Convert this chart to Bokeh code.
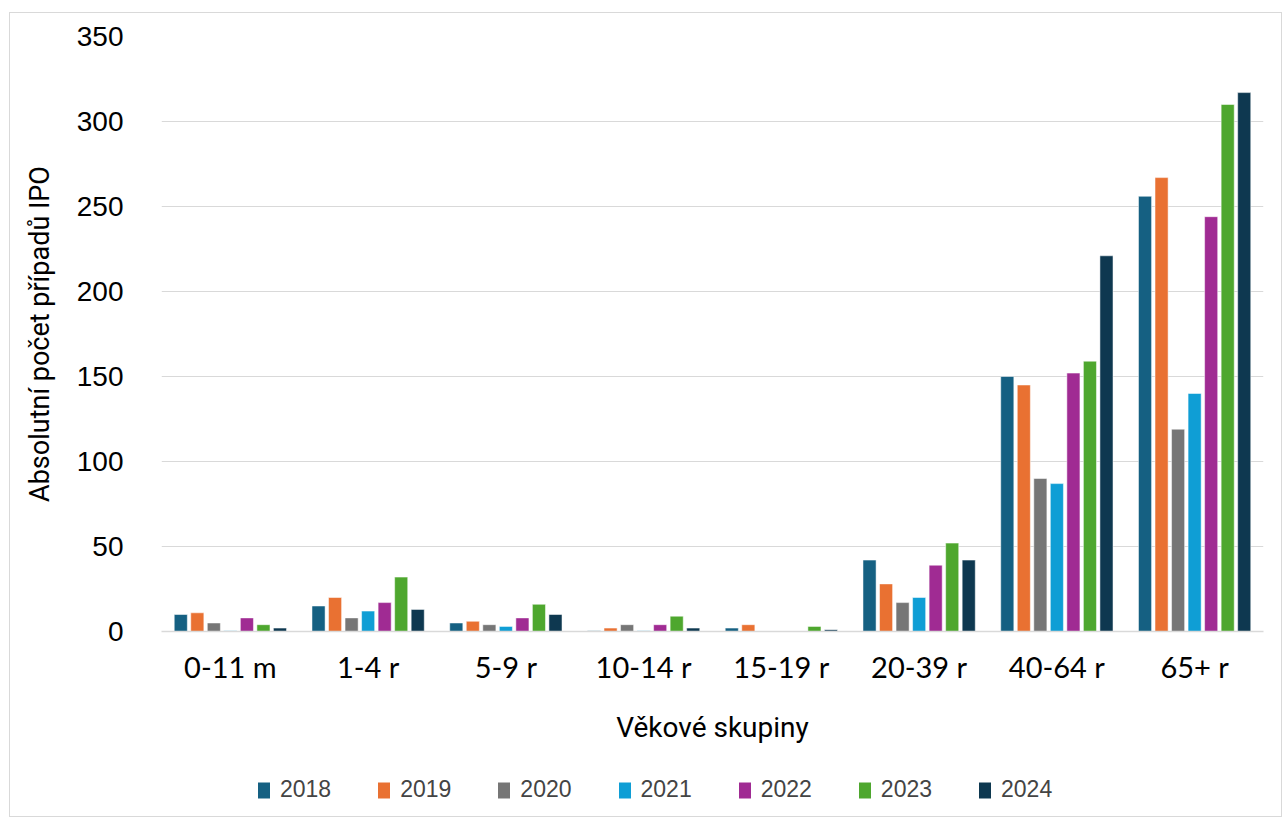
from bokeh.plotting import figure
from bokeh.layouts import column
from bokeh.models import ColumnDataSource, FactorRange, Legend, LegendItem, Range1d, SingleIntervalTicker
from bokeh.transform import dodge
from bokeh.embed import file_html
from bokeh.resources import INLINE

groups = ["0-11 m", "1-4 r", "5-9 r", "10-14 r", "15-19 r", "20-39 r", "40-64 r", "65+ r"]
years = ["2018", "2019", "2020", "2021", "2022", "2023", "2024"]
v2018 = [10, 15, 5, 0.5, 2, 42, 150, 256]
v2019 = [11, 20, 6, 2, 4, 28, 145, 267]
v2020 = [5, 8, 4, 4, 0, 17, 90, 119]
v2021 = [0.5, 12, 3, 0.5, 0, 20, 87, 140]
v2022 = [8, 17, 8, 4, 0, 39, 152, 244]
v2023 = [4, 32, 16, 9, 3, 52, 159, 310]
v2024 = [2, 13, 10, 2, 1, 42, 221, 317]
colors = ["#156082", "#E97132", "#767676", "#0F9ED5", "#A02B93", "#4EA72E", "#0E3850"]

series = [v2018, v2019, v2020, v2021, v2022, v2023, v2024]
data = {"g": groups}
for y, s in zip(years, series):
    data["y" + y] = s
src = ColumnDataSource(data)

p = figure(x_range=FactorRange(*groups, range_padding=0), y_range=Range1d(0, 350),
           frame_width=1102, frame_height=595, output_backend="svg", toolbar_location=None,
           min_border_left=151, min_border_right=18, min_border_top=23, min_border_bottom=130)

# legend strip below the chart (bars out of its visible range, used only for legend swatches)
pl = figure(x_range=p.x_range, y_range=Range1d(1000, 2000), frame_width=1271, frame_height=55,
            output_backend="svg", toolbar_location=None, x_axis_type=None, y_axis_type=None,
            min_border=0)
pl.outline_line_color = None
pl.grid.visible = False

offsets = [-0.36, -0.24, -0.12, 0.0, 0.12, 0.24, 0.36]
items = []
for y, c, off in zip(years, colors, offsets):
    p.vbar(x=dodge("g", off, range=p.x_range), top="y" + y, width=0.095, source=src,
           fill_color=c, line_color="white", line_width=0.5)
    r2 = pl.vbar(x=dodge("g", off, range=p.x_range), top="y" + y, width=0.095, source=src,
                 fill_color=c, line_color=None)
    items.append(LegendItem(label=y, renderers=[r2]))

p.outline_line_color = None
p.xgrid.grid_line_color = None
p.ygrid.grid_line_color = "#d9d9d9"
p.ygrid.grid_line_width = 1.2
p.yaxis.ticker = SingleIntervalTicker(interval=50)
p.yaxis.axis_line_color = None
p.yaxis.major_tick_line_color = None
p.yaxis.minor_tick_line_color = None
p.yaxis.major_label_text_font = "Liberation Sans"
p.yaxis.major_label_text_font_size = "28px"
p.yaxis.major_label_text_color = "#000000"
p.yaxis.major_label_standoff = 32
p.yaxis.axis_label = "Absolutní počet případů IPO"
p.yaxis.axis_label_text_font = "Roboto"
p.yaxis.axis_label_text_font_style = "normal"
p.yaxis.axis_label_text_font_size = "27px"
p.yaxis.axis_label_text_color = "#000000"
p.yaxis.axis_label_standoff = 18

p.xaxis.axis_line_color = "#d9d9d9"
p.xaxis.axis_line_width = 1.5
p.xaxis.major_tick_line_color = None
p.xaxis.minor_tick_line_color = None
p.xaxis.major_label_text_font = "Lato"
p.xaxis.major_label_text_font_size = "29px"
p.xaxis.major_label_text_color = "#000000"
p.xaxis.major_label_standoff = 11
p.xaxis.axis_label = "Věkové skupiny"
p.xaxis.axis_label_text_font = "Roboto"
p.xaxis.axis_label_text_font_style = "normal"
p.xaxis.axis_label_text_font_size = "28px"
p.xaxis.axis_label_text_color = "#000000"
p.xaxis.axis_label_standoff = 24

legend = Legend(items=items, orientation="horizontal", location=(246, 13),
                label_text_font="Liberation Sans", label_text_font_size="23px",
                glyph_width=15, glyph_height=20, spacing=45, label_standoff=9,
                border_line_color=None, background_fill_alpha=0, padding=0, margin=0)
pl.add_layout(legend, "center")

layout = column(p, pl, spacing=0, margin=(12, 0, 0, 9),
                styles={"border": "1px solid #d9d9d9"})

open("out.html", "w").write(file_html(layout, INLINE))
